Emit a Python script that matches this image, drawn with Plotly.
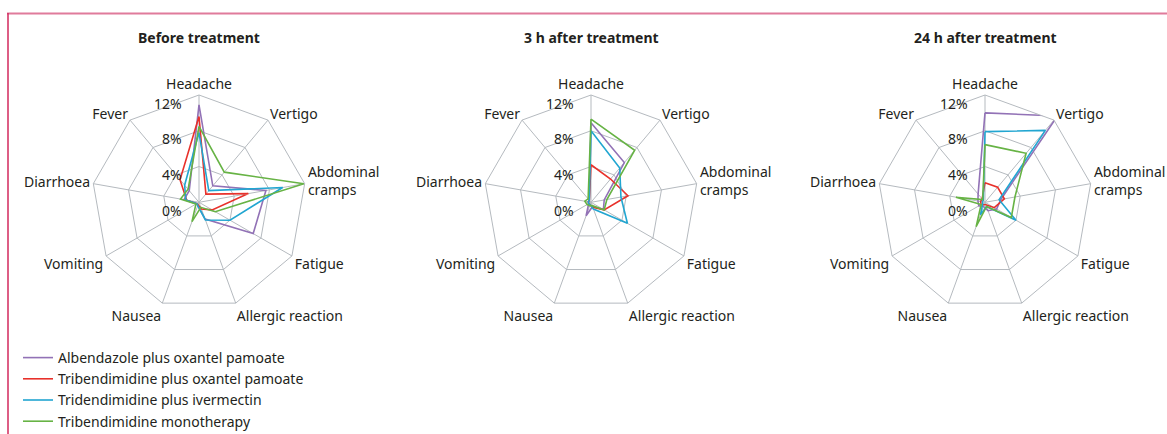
import plotly.graph_objects as go

categories = ["Headache", "Vertigo", "Abdominal cramps", "Fatigue", "Allergic reaction",
              "Nausea", "Vomiting", "Diarrhoea", "Fever"]
category_labels = ["Headache", "Vertigo", "Abdominal<br>cramps", "Fatigue", "Allergic reaction",
                   "Nausea", "Vomiting", "Diarrhoea", "Fever"]

series_names = ["Albendazole plus oxantel pamoate", "Tribendimidine plus oxantel pamoate",
                "Tridendimidine plus ivermectin", "Tribendimidine monotherapy"]
series_colors = ["#9272b6", "#e8312b", "#22a6d1", "#67b345"]

panel_titles = ["Before treatment", "3 h after treatment", "24 h after treatment"]

# values in % for each category (order as in `categories`)
before = [
    [10.9, 2.4, 7.6, 7.0, 2.0, 0.4, 0.3, 1.7, 1.7],   # Albendazole + oxantel pamoate
    [9.6, 1.2, 5.6, 1.7, 0.8, 0.3, 0.3, 1.4, 3.3],    # Tribendimidine + oxantel pamoate
    [7.8, 1.7, 9.5, 4.0, 2.1, 0.4, 0.3, 1.5, 2.5],    # Tridendimidine + ivermectin
    [8.5, 4.4, 11.9, 2.1, 0.6, 2.3, 0.4, 2.1, 1.9],   # Tribendimidine monotherapy
]
after_3h = [
    [8.9, 5.8, 1.5, 1.6, 0.5, 1.6, 0.3, 0.3, 0.3],
    [4.2, 3.4, 4.2, 1.7, 0.6, 0.3, 0.3, 0.3, 0.3],
    [8.0, 5.0, 3.4, 4.7, 0.8, 0.3, 0.3, 0.3, 0.3],
    [9.3, 7.6, 1.8, 1.7, 0.4, 0.4, 0.5, 0.7, 0.5],
]
after_24h = [
    [10.0, 12.6, 1.8, 1.5, 1.0, 0.5, 0.8, 0.8, 1.2],
    [2.2, 2.2, 2.2, 1.2, 0.3, 0.3, 0.5, 0.5, 0.5],
    [7.9, 10.5, 1.6, 4.0, 0.5, 1.5, 0.3, 0.3, 0.3],
    [6.45, 7.15, 3.4, 3.4, 0.5, 2.9, 0.5, 3.3, 0.4],
]
panels = [before, after_3h, after_24h]

radial_ticks = [0, 4, 8, 12]
radial_ticktext = [f"<br>{t}%" for t in radial_ticks]

W, H = 1167, 434
centers_x = [199, 591, 985]
center_y = 202.3
radius = 107.3

FONT = "Noto Sans"
TXT = "#231f20"
GRID = "#b5babf"

fig = go.Figure()

for p, data in enumerate(panels):
    pid = "polar" if p == 0 else f"polar{p + 1}"
    for s, vals in enumerate(data):
        r = list(vals) + [vals[0]]
        th = list(categories) + [categories[0]]
        fig.add_trace(go.Scatterpolar(
            r=r, theta=th, mode="lines", subplot=pid,
            name=series_names[s], legendgroup=series_names[s],
            showlegend=(p == 0), cliponaxis=False,
            line=dict(color=series_colors[s], width=1.6),
            hoverinfo="skip",
        ))

    cx = centers_x[p]
    polar = dict(
        domain=dict(x=[(cx - radius) / W, (cx + radius) / W],
                    y=[(H - center_y - radius) / H, (H - center_y + radius) / H]),
        gridshape="linear",
        bgcolor="white",
        angularaxis=dict(
            type="category", categoryorder="array", categoryarray=categories,
            tickvals=categories, ticktext=category_labels,
            direction="clockwise", rotation=90,
            showline=True, linecolor=GRID, linewidth=1,
            gridcolor=GRID, gridwidth=1, ticks="",
            tickfont=dict(family=FONT, size=14, color=TXT),
        ),
        radialaxis=dict(
            range=[0, 12], tickvals=radial_ticks, ticktext=radial_ticktext,
            angle=90, side="counterclockwise", showline=False,
            ticks="outside", ticklen=12, tickcolor="rgba(0,0,0,0)",
            tickangle=90,
            gridcolor=GRID, gridwidth=1,
            tickfont=dict(family=FONT, size=14, color=TXT),
        ),
    )
    fig.update_layout(**{pid: polar})

    fig.add_annotation(
        x=cx / W, y=(H - 37) / H, xref="paper", yref="paper",
        text=f"<b>{panel_titles[p]}</b>", showarrow=False,
        font=dict(family=FONT, size=14, color=TXT),
        xanchor="center", yanchor="middle",
    )

# journal frame
fig.add_shape(type="line", xref="paper", yref="paper",
              x0=7 / W, x1=1, y0=(H - 13.5) / H, y1=(H - 13.5) / H,
              line=dict(color="#e07b9b", width=2))
fig.add_shape(type="line", xref="paper", yref="paper",
              x0=8 / W, x1=8 / W, y0=0, y1=(H - 13) / H,
              line=dict(color="#d2285c", width=1.5))

fig.update_layout(
    width=W, height=H,
    margin=dict(l=0, r=0, t=0, b=0, autoexpand=False),
    paper_bgcolor="white",
    showlegend=True,
    legend=dict(
        x=18 / W, y=-3 / H, xanchor="left", yanchor="bottom",
        font=dict(family=FONT, size=14, color=TXT),
        bgcolor="rgba(0,0,0,0)", borderwidth=0,
        itemwidth=30, tracegroupgap=0,
    ),
)

fig.write_html("out.html", config={"displayModeBar": False},
               post_script="document.body.style.margin='0';document.body.style.overflow='hidden';")
